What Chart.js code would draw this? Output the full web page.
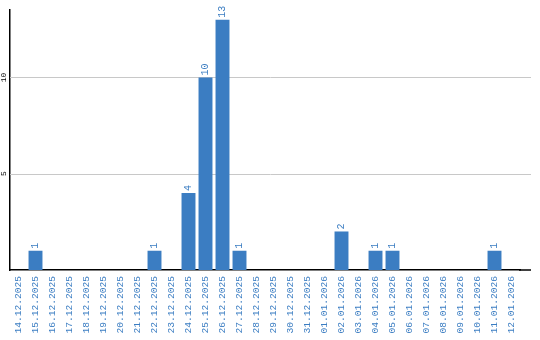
<!DOCTYPE html>
<html>
<head>
<meta charset="utf-8">
<script src="https://cdn.jsdelivr.net/npm/chart.js@4/dist/chart.umd.min.js"></script>
<style>
  html, body { margin: 0; padding: 0; background: #fff; }
  #wrap { width: 540px; height: 340px; }
</style>
</head>
<body>
<div id="wrap"><canvas id="dailyChart"></canvas></div>
<script>
// daily counts
const days = [
    "14.12.2025", "15.12.2025", "16.12.2025", "17.12.2025", "18.12.2025",
    "19.12.2025", "20.12.2025", "21.12.2025", "22.12.2025", "23.12.2025",
    "24.12.2025", "25.12.2025", "26.12.2025", "27.12.2025", "28.12.2025",
    "29.12.2025", "30.12.2025", "31.12.2025", "01.01.2026", "02.01.2026",
    "03.01.2026", "04.01.2026", "05.01.2026", "06.01.2026", "07.01.2026",
    "08.01.2026", "09.01.2026", "10.01.2026", "11.01.2026", "12.01.2026"
];
const counts = [
    0, 1, 0, 0, 0,
    0, 0, 0, 1, 0,
    4, 10, 13, 1, 0,
    0, 0, 0, 0, 2,
    0, 1, 1, 0, 0,
    0, 0, 0, 1, 0
];
const yTicks = [5, 10];

const blue = "rgb(59, 125, 194)";
const runOut = 11; // axis + gridlines go a bit past the last category

// gridlines (drawn here so they can run past the last category)
const gridPlugin = {
    id: "gridPlugin",
    beforeDatasetsDraw(chart) {
        const ctx = chart.ctx;
        const area = chart.chartArea;
        const y = chart.scales.y;
        ctx.save();
        ctx.lineWidth = 1;
        ctx.strokeStyle = "#c8c8c8";
        yTicks.forEach((v) => {
            const py = Math.round(y.getPixelForValue(v)) + 0.5;
            ctx.beginPath();
            ctx.moveTo(area.left, py);
            ctx.lineTo(area.right + runOut, py);
            ctx.stroke();
        });
        ctx.restore();
    }
};

// value labels above bars, rotated y tick labels
const labelsPlugin = {
    id: "labelsPlugin",
    afterDatasetsDraw(chart) {
        const ctx = chart.ctx;
        const area = chart.chartArea;
        const meta = chart.getDatasetMeta(0);
        ctx.save();
        ctx.strokeStyle = "#000";
        ctx.lineWidth = 1.5;
        ctx.beginPath();
        ctx.moveTo(area.right - 1, area.bottom);
        ctx.lineTo(area.right + runOut, area.bottom);
        ctx.stroke();

        ctx.font = "10px 'Liberation Mono'";
        ctx.fillStyle = blue;
        ctx.textAlign = "left";
        ctx.textBaseline = "middle";
        meta.data.forEach((bar, i) => {
            if (!counts[i]) return;
            ctx.save();
            ctx.translate(bar.x, bar.y - 2);
            ctx.rotate(-Math.PI / 2);
            ctx.fillText(String(counts[i]), 0, 0);
            ctx.restore();
        });
        // y ticks
        const y = chart.scales.y;
        ctx.font = "8px 'Liberation Mono'";
        ctx.fillStyle = "#000";
        ctx.textAlign = "center";
        yTicks.forEach((v) => {
            ctx.save();
            ctx.translate(4, y.getPixelForValue(v));
            ctx.rotate(-Math.PI / 2);
            ctx.fillText(String(v), 0, 0);
            ctx.restore();
        });
        ctx.restore();
    }
};

new Chart(document.getElementById("dailyChart"), {
    type: "bar",
    data: {
        labels: days,
        datasets: [{
            data: counts,
            backgroundColor: blue,
            barPercentage: 0.82,
            categoryPercentage: 1.0
        }]
    },
    options: {
        responsive: true,
        maintainAspectRatio: false,
        animation: false,
        layout: { padding: { left: 10, top: 10, right: 20, bottom: 0 } },
        plugins: { legend: { display: false }, tooltip: { enabled: false } },
        scales: {
            x: {
                grid: { display: false, drawTicks: false },
                border: { color: "#000", width: 1.5 },
                afterFit(scale) { scale.height = 70; },
                ticks: {
                    minRotation: 90,
                    maxRotation: 90,
                    autoSkip: false,
                    padding: 6,
                    color: blue,
                    font: { family: "'Liberation Mono'", size: 9.6 }
                }
            },
            y: {
                min: 0,
                max: 13.5,
                ticks: { display: false, stepSize: 5 },
                grid: { display: false, drawTicks: false },
                border: { color: "#000", width: 1.5 }
            }
        }
    },
    plugins: [gridPlugin, labelsPlugin]
});
</script>
</body>
</html>
